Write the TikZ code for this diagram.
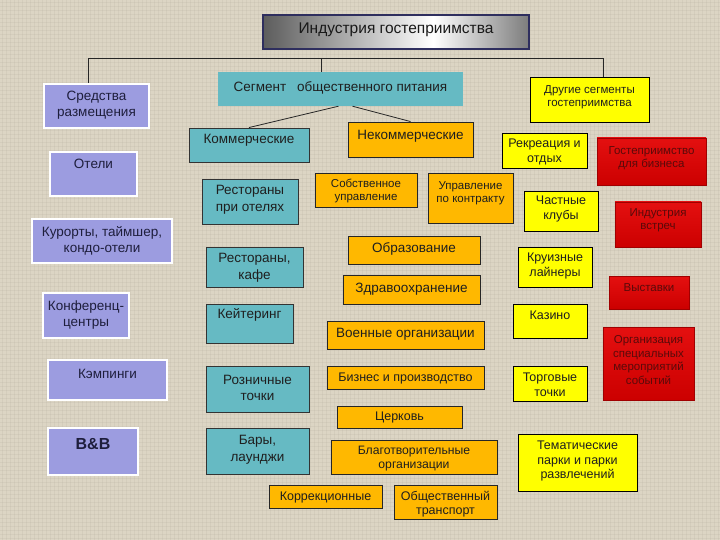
\documentclass[tikz,border=0pt]{standalone}
\usepackage{fontspec}
\setmainfont{Liberation Sans}
\usetikzlibrary{calc}
\definecolor{bg}{HTML}{DCD5C4}
\definecolor{purp}{HTML}{9C9CE0}
\definecolor{tealc}{HTML}{66BAC3}
\definecolor{orng}{HTML}{FFB800}
\definecolor{yel}{HTML}{FFFF00}
\definecolor{redA}{HTML}{E41010}
\definecolor{redB}{HTML}{CC0000}
\definecolor{redD}{HTML}{A00000}
\definecolor{tg1}{HTML}{5C5C5C}
\definecolor{tg2}{HTML}{7C7C7C}
\definecolor{navy}{HTML}{2E2E5E}
\definecolor{ptx}{HTML}{1E1E3C}
\definecolor{rtx}{HTML}{5A0A0A}
\pgfdeclarehorizontalshading{titleshade}{100bp}{color(0bp)=(tg1); color(25bp)=(tg1); color(57bp)=(white); color(75bp)=(tg2); color(100bp)=(tg2)}
\newcommand\mybox[9]{%
  \node[#2, minimum width={#6pt-#4pt}, minimum height={#7pt-#5pt}, inner sep=0pt] (#1) at ({(#4+#6)/2},{(#5+#7)/2}) {};
  \node[#3, align=center, inner sep=0pt] (#1-t) at ({(#4+#6)/2},#8) {#9};}
\begin{document}
\begin{tikzpicture}[x=1pt,y=-1pt,
  pbox/.style={fill=purp, draw=white, line width=2.2pt},
  tbox/.style={fill=tealc, draw=black!80, line width=0.9pt},
  sbox/.style={fill=tealc},
  obox/.style={fill=orng, draw=black!85, line width=0.9pt},
  ybox/.style={fill=yel, draw=black, line width=0.9pt},
  rbox/.style={top color=redA, bottom color=redB, draw=redD, line width=0.9pt},
  titlebox/.style={shading=titleshade, draw=navy, line width=1.2pt},
  ft/.style={font=\fontsize{15.5}{18}\selectfont, text=black!90},
  fL/.style={font=\fontsize{13.5}{16.5}\selectfont, text=black!88},
  fM/.style={font=\fontsize{12.5}{14.5}\selectfont, text=black!88},
  fS/.style={font=\fontsize{11.5}{13.5}\selectfont, text=black!88},
  fB/.style={font=\fontsize{16}{19}\selectfont\bfseries},
  texture/.style={draw=bg!80!black, line width=0.4pt, opacity=0.18},
  conn/.style={draw=black!85, line width=0.8pt}]
\useasboundingbox (0,0) rectangle (720,540);
\fill[bg] (0,0) rectangle (720,540);
\foreach \i in {2,6,...,718} \draw[texture] (\i,0) -- (\i,540);
\foreach \j in {2,6,...,538} \draw[texture] (0,\j) -- (720,\j);

\mybox{title}{titlebox}{ft}{263}{15}{529}{49}{30}{Индустрия гостеприимства}
\mybox{sredstva}{pbox}{fL,text=ptx}{44}{84}{149}{128}{105}{Средства\\размещения}
\mybox{segment}{sbox}{fL}{218}{72}{463}{106}{88}{Сегмент\hspace{7pt} общественного питания}
\mybox{drugie}{ybox}{fS}{530}{77}{649}{122}{97}{Другие сегменты\\гостеприимства}
\mybox{komm}{tbox}{fL}{189}{128}{309}{162}{140}{Коммерческие}
\mybox{nekomm}{obox}{fL}{348}{122}{473}{157}{136}{Некоммерческие}
\mybox{oteli}{pbox}{fL,text=ptx}{50}{152}{137}{196}{164}{Отели}
\mybox{restotel}{tbox}{fL}{202}{179}{298}{224}{200}{Рестораны\\при отелях}
\mybox{sobstv}{obox}{fS}{315}{173}{417}{207}{191}{Собственное\\управление}
\mybox{kontrakt}{obox}{fS}{428}{173}{513}{223}{193}{Управление\\по контракту}
\mybox{rekr}{ybox}{fM}{502}{133}{587}{168}{152}{Рекреация и\\отдых}
\mybox{biz}{rbox}{fS,text=rtx}{597}{138}{706}{185}{158}{Гостеприимство\\для бизнеса}
\mybox{kluby}{ybox}{fM}{524}{191}{598}{231}{209}{Частные\\клубы}
\mybox{vstrech}{rbox}{fS,text=rtx}{615}{202}{701}{247}{220}{Индустрия\\встреч}
\mybox{kurorty}{pbox}{fL,text=ptx}{32}{219}{172}{263}{241}{Курорты, таймшер,\\кондо-отели}
\mybox{kafe}{tbox}{fL}{206}{247}{303}{287}{268}{Рестораны,\\кафе}
\mybox{obraz}{obox}{fL}{348}{236}{480}{264}{249}{Образование}
\mybox{kruiz}{ybox}{fM}{518}{247}{592}{287}{266}{Круизные\\лайнеры}
\mybox{vyst}{rbox}{fS,text=rtx}{609}{276}{689}{309}{288}{Выставки}
\mybox{zdrav}{obox}{fL}{343}{275}{480}{304}{289}{Здравоохранение}
\mybox{konf}{pbox}{fL,text=ptx}{43}{293}{129}{338}{315}{Конференц-\\центры}
\mybox{keit}{tbox}{fL}{206}{304}{293}{343}{315}{Кейтеринг}
\mybox{kazino}{ybox}{fM}{513}{304}{587}{338}{315}{Казино}
\mybox{voen}{obox}{fL}{327}{321}{484}{349}{334}{Военные организации}
\mybox{orgmer}{rbox}{fS,text=rtx}{603}{327}{694}{400}{360}{Организация\\специальных\\мероприятий\\событий}
\mybox{kemp}{pbox}{fL,text=ptx}{48}{360}{167}{400}{374}{Кэмпинги}
\mybox{rozn}{tbox}{fL}{206}{366}{309}{412}{388}{Розничные\\точки}
\mybox{bizpr}{obox}{fM}{327}{366}{484}{389}{378}{Бизнес и производство}
\mybox{torg}{ybox}{fM}{513}{366}{587}{401}{385}{Торговые\\точки}
\mybox{cerk}{obox}{fM}{337}{406}{462}{428}{417}{Церковь}
\mybox{bnb}{pbox}{fB,text=ptx}{48}{428}{138}{475}{444}{B\&B}
\mybox{bary}{tbox}{fL}{206}{428}{309}{474}{450}{Бары,\\лаунджи}
\mybox{blag}{obox}{font=\fontsize{12.2}{14}\selectfont, text=black!88}{331}{440}{497}{474}{459}{Благотворительные\\организации}
\mybox{temat}{ybox}{fM}{518}{434}{637}{491}{461}{Тематические\\парки и парки\\развлечений}
\mybox{korr}{obox}{fM}{269}{485}{382}{508}{497}{Коррекционные}
\mybox{obtr}{obox}{fM}{394}{485}{497}{519}{504}{Общественный\\транспорт}

\coordinate (hl) at (88,58);
\coordinate (hr) at (603,58);
\coordinate (hm) at (321,58);
\draw[conn] (hl |- sredstva.north) -- (hl) -- (hr) -- (hr |- drugie.north);
\draw[conn] (hm) -- (hm |- segment.north);
\draw[conn] ($(segment.south)+(-2,0)$) -- (komm.north);
\draw[conn] ($(segment.south)+(12,0)$) -- (nekomm.north);
\end{tikzpicture}
\end{document}
